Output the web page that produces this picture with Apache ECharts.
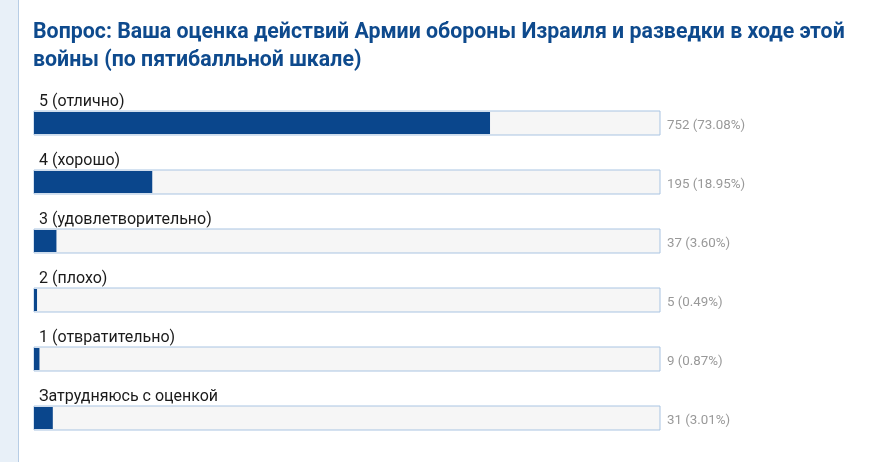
<!DOCTYPE html>
<html>
<head>
<meta charset="utf-8">
<script src="https://cdn.jsdelivr.net/npm/echarts@6/dist/echarts.min.js"></script>
<style>
  html, body { margin: 0; padding: 0; background: #fff; }
  #chart { width: 869px; height: 462px; }
</style>
</head>
<body>
<div id="chart"></div>
<script>
let titleText = 'Вопрос: Ваша оценка действий Армии обороны Израиля и разведки в ходе этой\nвойны (по пятибалльной шкале)'
let categories = ['5 (отлично)', '4 (хорошо)', '3 (удовлетворительно)', '2 (плохо)', '1 (отвратительно)', 'Затрудняюсь с оценкой']
let counts = [752, 195, 37, 5, 9, 31]
let percents = ['73.08', '18.95', '3.60', '0.49', '0.87', '3.01']

let total = counts.reduce((a, b) => a + b, 0)
let totals = counts.map(() => total)

let myChart = echarts.init(document.getElementById('chart'))

let option = {
    animation: false,
    textStyle: { fontFamily: 'Roboto' },
    title: {
        text: titleText,
        left: 33,
        top: 19,
        padding: 0,
        textStyle: {
            fontFamily: 'Roboto',
            fontSize: 21.33,
            fontWeight: 'bold',
            color: '#0e4a8d',
            lineHeight: 28
        }
    },
    graphic: [
        { type: 'rect', shape: { x: 0, y: 0, width: 18, height: 462 }, style: { fill: '#e8f0f8' }, silent: true },
        { type: 'line', shape: { x1: 18.5, y1: 0, x2: 18.5, y2: 462 }, style: { stroke: '#b7cde5', lineWidth: 1 }, silent: true }
    ],
    grid: [
        { left: 33.5, width: 627, top: 93.5, height: 354 },
        { left: 34, width: 624, top: 93.5, height: 354 }
    ],
    xAxis: [
        { gridIndex: 0, type: 'value', min: 0, max: total, show: false },
        { gridIndex: 1, type: 'value', min: 0, max: total, show: false }
    ],
    yAxis: [
        { gridIndex: 0, type: 'category', data: categories, inverse: true, show: false },
        { gridIndex: 1, type: 'category', data: categories, inverse: true, show: false }
    ],
    series: [
        {
            // серый фон с рамкой + подпись значения справа
            type: 'bar',
            xAxisIndex: 0,
            yAxisIndex: 0,
            barWidth: 25,
            silent: true,
            data: totals,
            itemStyle: { color: '#f6f6f6', borderColor: '#a9c4e2', borderWidth: 1 },
            label: {
                show: true,
                position: 'right',
                distance: 6.5,
                offset: [0, 3],
                fontSize: 13.33,
                color: '#999999',
                formatter: function (p) {
                    return counts[p.dataIndex] + ' (' + percents[p.dataIndex] + '%)'
                }
            }
        },
        {
            type: 'bar',
            xAxisIndex: 1,
            yAxisIndex: 1,
            barWidth: 22,
            silent: true,
            data: counts,
            itemStyle: { color: '#0a468c' },
            label: {
                show: true,
                position: [5, -10.5],
                align: 'left',
                verticalAlign: 'middle',
                fontSize: 16,
                color: '#1a1a1a',
                formatter: function (p) {
                    return categories[p.dataIndex]
                }
            }
        }
    ]
}

myChart.setOption(option, true)
</script>
</body>
</html>
